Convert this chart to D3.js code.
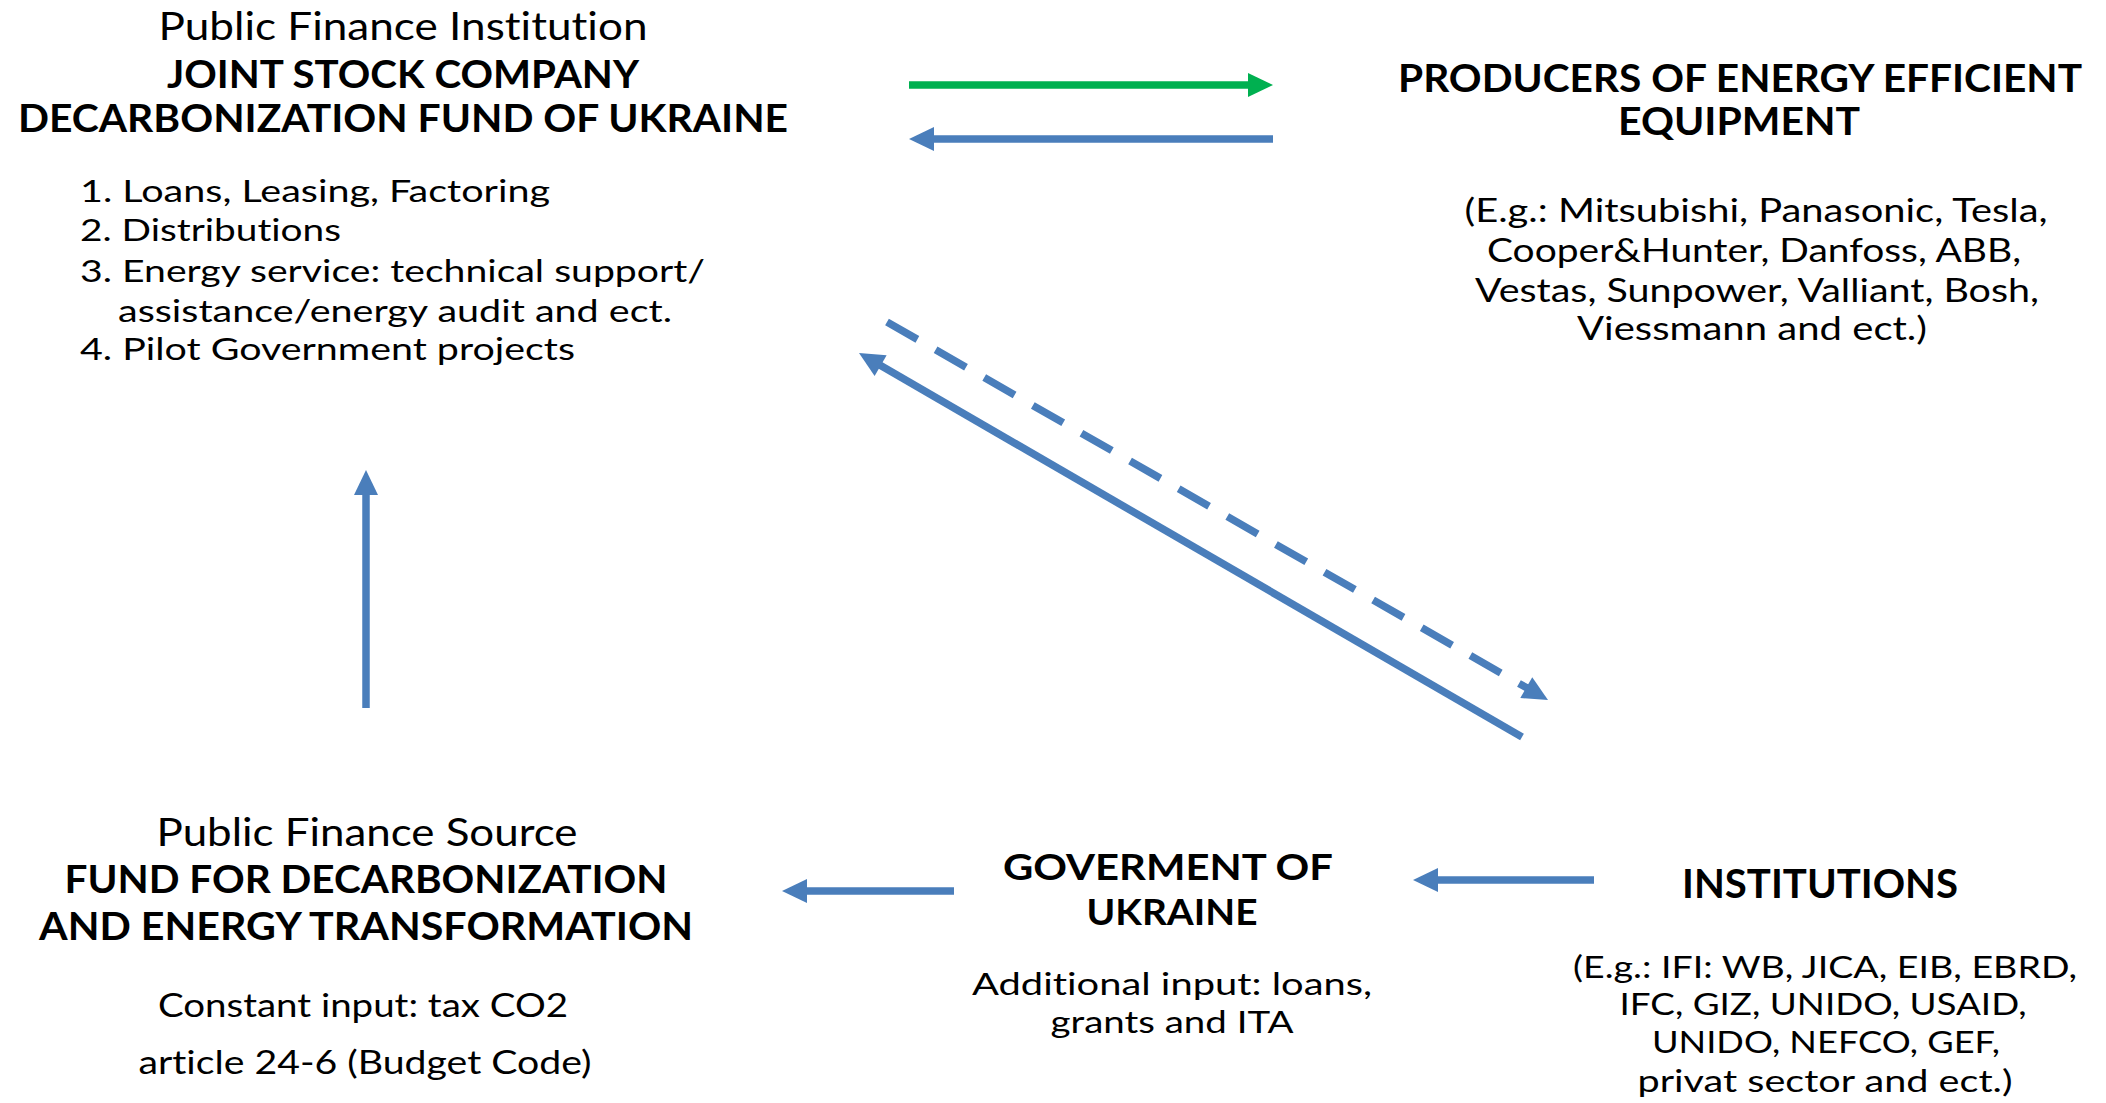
<!DOCTYPE html>
<html>
<head>
<meta charset="utf-8">
<script src="https://cdn.jsdelivr.net/npm/d3@7/dist/d3.min.js"></script>
<style>
  body { margin: 0; background: #fff; overflow: hidden; }
  text { font-family: Lato, "Open Sans", sans-serif; fill: #000; font-variant-ligatures: none; }
</style>
</head>
<body>
<script>
// ---- texts of the diagram ----
var fundTitle = ["Public Finance Institution", "JOINT STOCK COMPANY", "DECARBONIZATION FUND OF UKRAINE"];
var fundServices = ["1. Loans, Leasing, Factoring", "2. Distributions", "3. Energy service: technical support/",
                    "assistance/energy audit and ect.", "4. Pilot Government projects"];
var producersTitle = ["PRODUCERS OF ENERGY EFFICIENT", "EQUIPMENT"];
var producersList = ["(E.g.: Mitsubishi, Panasonic, Tesla,", "Cooper&Hunter, Danfoss, ABB,",
                     "Vestas, Sunpower, Valliant, Bosh,", "Viessmann and ect.)"];
var sourceTitle = ["Public Finance Source", "FUND FOR DECARBONIZATION", "AND ENERGY TRANSFORMATION"];
var sourceInput = ["Constant input: tax CO2", "article 24-6 (Budget Code)"];
var govTitle = ["GOVERMENT OF", "UKRAINE"];
var govInput = ["Additional input: loans,", "grants and ITA"];
var instTitle = ["INSTITUTIONS"];
var instList = ["(E.g.: IFI: WB, JICA, EIB, EBRD,", "IFC, GIZ, UNIDO, USAID,", "UNIDO, NEFCO, GEF,", "privat sector and ect.)"];

// flows between the blocks
var flowNames = ["fund-producers", "producers-fund", "source-fund", "fund-institutions",
                 "institutions-fund", "government-source", "institutions-government"];
var flowColors = ["green", "blue", "blue", "blue", "blue", "blue", "blue"];
var flowDashed = [false, false, false, true, false, false, false];

// ---- layout (pixels) ----
var W = 2106, H = 1103;
var blue = "#4a7ebb", green = "#00b050";

// per line: x, baseline, width, size, bold, anchor
var layout = [
  {lines: fundTitle, x: [403, 403, 403], y: [40, 88, 132], w: [489, 472, 770], size: [39, 38, 38], bold: [0, 1, 1], anchor: "middle"},
  {lines: fundServices, x: [80, 80, 80, 118, 80], y: [202, 241, 282, 322, 360], w: [470, 261, 625, 554, 495], size: 31, bold: 0, anchor: "start"},
  {lines: producersTitle, x: [1740, 1739], y: [92, 135], w: [684, 242], size: 38, bold: 1, anchor: "middle"},
  {lines: producersList, x: [1756, 1754, 1757, 1752], y: [222, 262, 302, 340], w: [583, 534, 564, 350], size: 32, bold: 0, anchor: "middle"},
  {lines: sourceTitle, x: [367, 366, 366], y: [846, 893, 940], w: [421, 603, 654], size: [39, 38, 38], bold: [0, 1, 1], anchor: "middle"},
  {lines: sourceInput, x: [363, 365], y: [1017, 1074], w: [410, 453], size: 32, bold: 0, anchor: "middle"},
  {lines: govTitle, x: [1168, 1172], y: [880, 925], w: [330, 171], size: 37, bold: 1, anchor: "middle"},
  {lines: govInput, x: [1172, 1172], y: [995, 1033], w: [400, 243], size: 31, bold: 0, anchor: "middle"},
  {lines: instTitle, x: [1820], y: [898], w: [276], size: 40, bold: 1, anchor: "middle"},
  {lines: instList, x: [1825, 1823, 1826, 1825], y: [978, 1015, 1053, 1092], w: [504, 407, 348, 375], size: 30, bold: 0, anchor: "middle"}
];

// arrow ends: [x1, y1] -> tip [x2, y2]
var flowEnds = [
  [[909, 85], [1273, 85]],
  [[1273, 139], [909, 139]],
  [[366, 708], [366, 470]],
  [[887, 322], [1548, 700]],
  [[1522, 737], [859, 353]],
  [[954, 891], [782, 891]],
  [[1594, 880], [1413, 880]]
];

var svg = d3.select("body").append("svg")
    .attr("width", W)
    .attr("height", H);

svg.append("rect").attr("width", W).attr("height", H).attr("fill", "#fff");

function pick(v, i) { return Array.isArray(v) ? v[i] : v; }

// text blocks
layout.forEach(function(b) {
  svg.append("g")
    .selectAll("text")
    .data(b.lines)
    .enter()
    .append("text")
    .attr("x", function(d, i) { return b.x[i]; })
    .attr("y", function(d, i) { return b.y[i]; })
    .attr("text-anchor", b.anchor)
    .attr("font-size", function(d, i) { return pick(b.size, i); })
    .attr("font-weight", function(d, i) { return pick(b.bold, i) ? 700 : 400; })
    .attr("textLength", function(d, i) { return b.w[i]; })
    .attr("lengthAdjust", "spacingAndGlyphs")
    .text(function(d) { return d; });
});

// arrows
var shaft = 7.5, headLen = 25, headHalf = 12;
var arrows = svg.append("g").selectAll("g")
    .data(flowNames)
    .enter()
    .append("g")
    .attr("class", function(d) { return "flow " + d; });

arrows.each(function(d, i) {
  var g = d3.select(this);
  var p1 = flowEnds[i][0], p2 = flowEnds[i][1];
  var dx = p2[0] - p1[0], dy = p2[1] - p1[1];
  var len = Math.sqrt(dx * dx + dy * dy);
  var ux = dx / len, uy = dy / len;
  var bx = p2[0] - ux * headLen, by = p2[1] - uy * headLen;
  var col = flowColors[i] == "green" ? green : blue;

  g.append("path")
    .attr("d", d3.line()([p1, [bx + ux, by + uy]]))
    .attr("stroke", col)
    .attr("stroke-width", shaft)
    .attr("stroke-dasharray", flowDashed[i] ? "35,21" : null)
    .attr("fill", "none");

  g.append("path")
    .attr("d", d3.line()([p2, [bx - uy * headHalf, by + ux * headHalf], [bx + uy * headHalf, by - ux * headHalf]]) + "Z")
    .attr("fill", col);
});
</script>
</body>
</html>
